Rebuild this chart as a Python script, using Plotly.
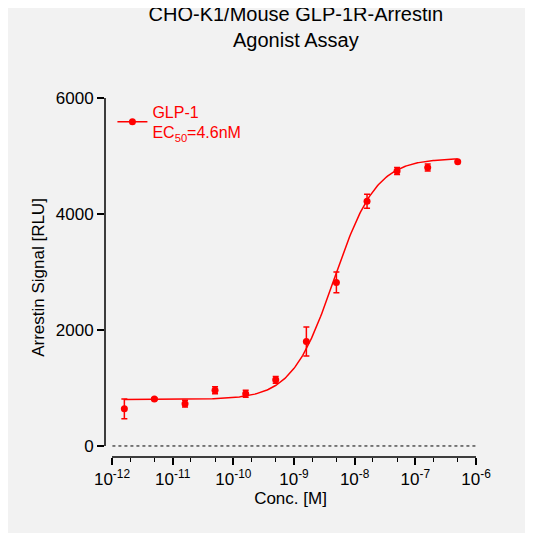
import numpy as np
import plotly.graph_objects as go

conc = [1.6e-12, 5e-12, 1.6e-11, 5e-11, 1.6e-10, 5e-10, 1.6e-9, 5e-9, 1.6e-8, 5e-8, 1.6e-7, 5e-7]
signal = [640, 810, 730, 960, 900, 1140, 1800, 2820, 4220, 4740, 4800, 4900]
err = [170, 20, 60, 60, 60, 60, 250, 180, 120, 60, 60, 0]

# 4PL fit parameters
bottom, top, ec50, hill = 800, 4960, 4.6e-9, 1.25

red = "#ff0000"
xs = np.logspace(np.log10(1.6e-12), np.log10(5e-7), 300)
fit = bottom + (top - bottom) / (1 + (ec50 / xs) ** hill)

fig = go.Figure()
fig.add_trace(go.Scatter(x=xs, y=fit, mode="lines", line=dict(color=red, width=1.5),
                         showlegend=False, hoverinfo="skip"))
fig.add_trace(go.Scatter(x=conc, y=signal, mode="markers", marker=dict(color=red, size=7),
                         error_y=dict(type="data", array=err, color=red, thickness=1.5, width=3),
                         showlegend=False))
# legend sample
fig.add_trace(go.Scatter(x=[None], y=[None], mode="lines+markers", name="GLP-1<br>EC<sub>50</sub>=4.6nM",
                         line=dict(color=red, width=1.5), marker=dict(color=red, size=7)))

tv = [10.0 ** e for e in range(-12, -5)]
tt = ["10<sup>%d</sup>" % e for e in range(-12, -5)]

fig.update_layout(
    width=533, height=533,
    margin=dict(l=97, r=65, t=90, b=84),
    paper_bgcolor="#f2f2f2", plot_bgcolor="#f2f2f2",
    font=dict(family="Liberation Sans, Arial", size=16, color="#000"),
    title=dict(text="CHO-K1/Mouse GLP-1R-Arrestin<br>Agonist Assay", x=0.54, xanchor="center",
               y=0.975, yanchor="top", font=dict(size=20)),
    legend=dict(x=0.02, y=1.01, xanchor="left", yanchor="top", bgcolor="rgba(0,0,0,0)",
                font=dict(color=red, size=16)),
    xaxis=dict(type="log", range=[-12.115, -6], tickvals=tv, ticktext=tt, ticks="outside",
               ticklen=7, tickwidth=1.5, tickcolor="#000", showgrid=False, zeroline=False,
               showline=False, minor=dict(ticks="outside", ticklen=4, tickwidth=1, tickcolor="#000"),
               tickfont=dict(size=17), title=dict(text="Conc. [M]", standoff=2, font=dict(size=17))),
    yaxis=dict(range=[-190, 6000], tickvals=[0, 2000, 4000, 6000], ticks="outside", ticklen=7,
               tickwidth=1.5, tickcolor="#000", showgrid=False, zeroline=False, showline=False,
               tickfont=dict(size=17),
               title=dict(text="Arrestin Signal [RLU]", standoff=6, font=dict(size=17))),
)
fig.add_shape(type="line", xref="x", yref="paper", x0=1e-12, x1=1e-6, y0=0, y1=0,
              line=dict(color="#000", width=1.5))
fig.add_shape(type="line", xref="paper", yref="y", x0=0, x1=0, y0=0, y1=6000,
              line=dict(color="#000", width=1.5))
fig.add_shape(type="line", xref="paper", yref="y", x0=0.02, x1=1, y0=0, y1=0,
              line=dict(color="#000", width=1, dash="dot"))

fig.write_html("out.html")
